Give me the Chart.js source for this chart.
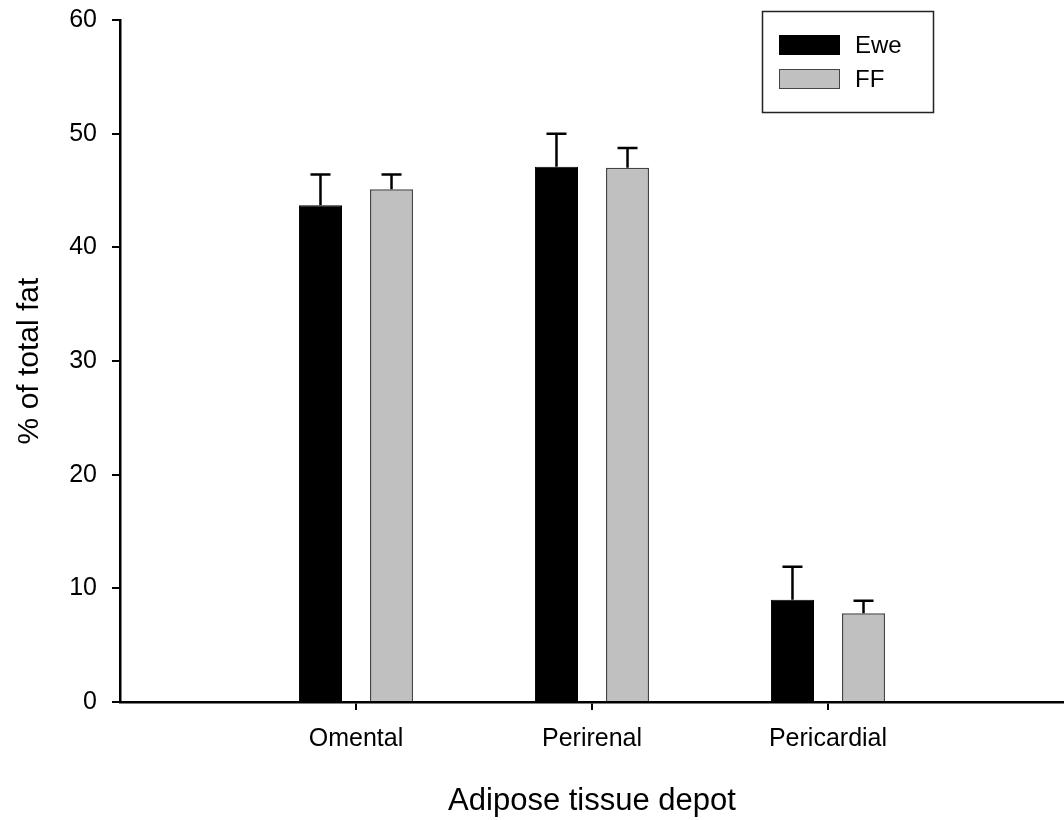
<!DOCTYPE html>
<html>
<head>
<meta charset="utf-8">
<script src="https://cdn.jsdelivr.net/npm/chart.js@4"></script>
<style>
  html, body { margin: 0; padding: 0; background: #fff; overflow: hidden; }
</style>
</head>
<body>
<canvas id="canvasBar" width="1064" height="820"></canvas>
<script>
// blank slots at both ends give the empty space left and right of the groups
var depots = ["", "Omental", "Perirenal", "Pericardial", ""];
var eweValues = [null, 43.7, 47.1, 9.0, null];
var eweErrors = [null, 2.7, 2.9, 2.9, null];
var ffValues = [null, 45.1, 47.0, 7.8, null];
var ffErrors = [null, 1.3, 1.75, 1.1, null];
var yTicks = [0, 10, 20, 30, 40, 50, 60];

var fontName = "'Liberation Sans', Arial, sans-serif";

// error bars, upper half only, with a cap
var errorBars = {
  id: 'errorBars',
  afterDatasetsDraw: function(chart) {
    var ctx = chart.ctx;
    var yScale = chart.scales.y;
    chart.data.datasets.forEach(function(ds, i) {
      var meta = chart.getDatasetMeta(i);
      meta.data.forEach(function(bar, j) {
        var err = ds.errors[j];
        if (ds.data[j] == null || err == null) return;
        var yTop = yScale.getPixelForValue(ds.data[j] + err);
        ctx.save();
        ctx.strokeStyle = '#000';
        ctx.lineWidth = 2.5;
        ctx.beginPath();
        ctx.moveTo(bar.x, bar.y);
        ctx.lineTo(bar.x, yTop);
        ctx.moveTo(bar.x - 10, yTop);
        ctx.lineTo(bar.x + 10, yTop);
        ctx.stroke();
        ctx.restore();
      });
    });
  }
};

// boxed legend in the upper right
var boxLegend = {
  id: 'boxLegend',
  afterDraw: function(chart) {
    var ctx = chart.ctx;
    ctx.save();
    ctx.strokeStyle = '#222';
    ctx.lineWidth = 1.5;
    ctx.strokeRect(762.5, 11.5, 171, 101);
    chart.data.datasets.forEach(function(ds, i) {
      var y = 35 + i * 34;
      ctx.fillStyle = ds.backgroundColor;
      ctx.fillRect(779, y, 61, 20);
      ctx.strokeStyle = ds.borderColor;
      ctx.lineWidth = 1;
      ctx.strokeRect(779.5, y + 0.5, 60, 19);
      ctx.fillStyle = '#000';
      ctx.font = '24px ' + fontName;
      ctx.textBaseline = 'middle';
      ctx.fillText(ds.label, 855, y + 11);
    });
    ctx.restore();
  }
};

var ctx = document.getElementById("canvasBar").getContext("2d");
window.myBar = new Chart(ctx, {
  type: 'bar',
  data: {
    labels: depots,
    datasets: [
      {
        label: 'Ewe',
        data: eweValues,
        errors: eweErrors,
        backgroundColor: '#000000',
        borderColor: '#000000',
        borderWidth: 1
      },
      {
        label: 'FF',
        data: ffValues,
        errors: ffErrors,
        backgroundColor: '#c0c0c0',
        borderColor: '#444444',
        borderWidth: 1.5
      }
    ]
  },
  options: {
    responsive: false,
    animation: false,
    categoryPercentage: 0.602,
    barPercentage: 0.606,
    layout: { padding: { top: 20, right: 0, left: 0, bottom: 0 } },
    plugins: {
      legend: { display: false },
      tooltip: { enabled: false }
    },
    scales: {
      x: {
        offset: false,
        grid: {
          offset: false,
          drawOnChartArea: false,
          tickLength: 8,
          lineWidth: 2,
          color: function(c) {
            return depots[c.index] ? '#000' : 'rgba(0,0,0,0)';
          }
        },
        border: { color: '#000', width: 2.5 },
        ticks: {
          color: '#000',
          font: { family: fontName, size: 25 },
          padding: 14,
          maxRotation: 0,
          autoSkip: false
        },
        title: {
          display: true,
          text: 'Adipose tissue depot',
          color: '#000',
          font: { family: fontName, size: 31 },
          padding: { top: 18, bottom: 0 }
        },
        afterFit: function(scale) {
          scale.height = 118;
          scale.paddingLeft = 0;
          scale.paddingRight = 0;
        }
      },
      y: {
        min: 0,
        max: 60,
        afterBuildTicks: function(scale) {
          scale.ticks = yTicks.map(function(v) { return { value: v }; });
        },
        grid: {
          drawOnChartArea: false,
          tickLength: 8,
          lineWidth: 2,
          color: '#000'
        },
        border: { color: '#000', width: 2.5 },
        ticks: {
          color: '#000',
          font: { family: fontName, size: 25 },
          padding: 15
        },
        title: {
          display: true,
          text: '% of total fat',
          color: '#000',
          font: { family: fontName, size: 30 },
          padding: { top: 12, bottom: 0 }
        },
        afterFit: function(scale) {
          scale.width = 120;
          scale.paddingTop = 0;
          scale.paddingBottom = 0;
        }
      }
    }
  },
  plugins: [errorBars, boxLegend]
});
</script>
</body>
</html>
